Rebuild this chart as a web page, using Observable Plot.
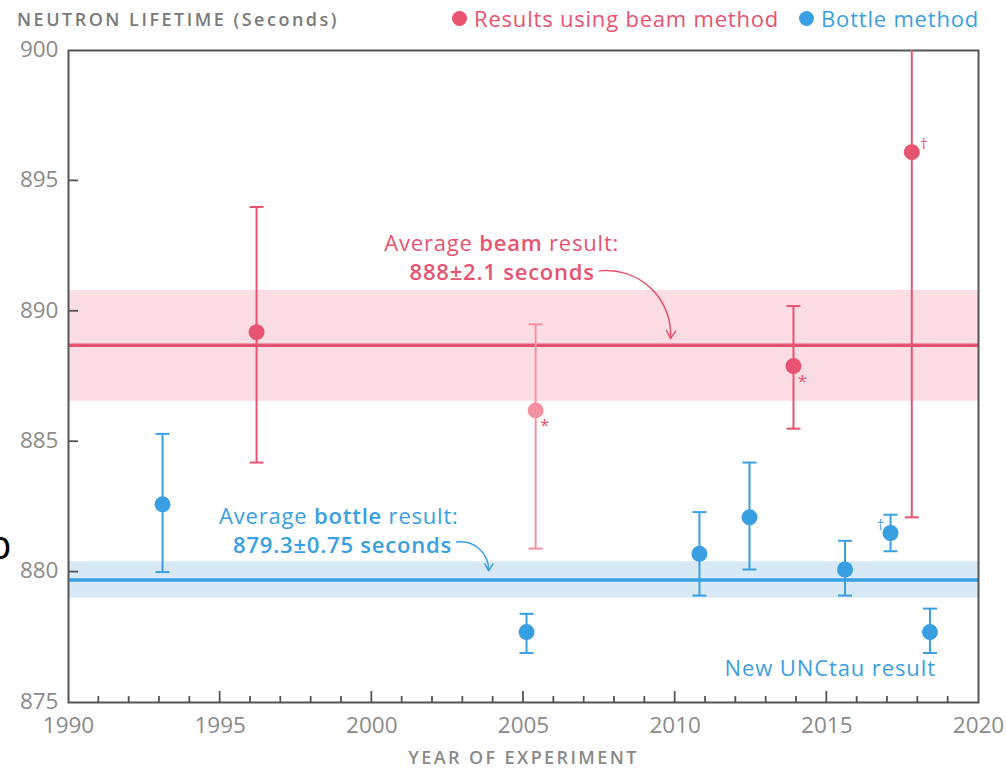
<!DOCTYPE html>
<html>
<head>
<meta charset="utf-8">
<script src="https://cdn.jsdelivr.net/npm/d3@7"></script>
<script src="https://cdn.jsdelivr.net/npm/@observablehq/plot@0.6"></script>
<style>
  body { margin: 0; background: #fff; font-family: "Open Sans", Lato, sans-serif; }
  #wrap { position: relative; width: 1006px; height: 769px; overflow: hidden; }
  #title { position: absolute; left: 17px; top: 7px; font-size: 18px; font-weight: 600; color: #7a7a7a; letter-spacing: 2.5px; white-space: nowrap; }
  #legend { position: absolute; right: 27px; top: 3px; font-size: 22px; letter-spacing: 0.8px; display: flex; gap: 20px; white-space: nowrap; }
  #legend span.item { display: flex; align-items: center; gap: 7px; }
  #legend i { display: inline-block; width: 15px; height: 15px; border-radius: 50%; }
  #chart { position: absolute; left: 0; top: 20px; }
  #stray { position: absolute; left: -13px; top: 516px; font-size: 40px; color: #000; font-family: "Open Sans", sans-serif; }
</style>
</head>
<body>
<div id="wrap">
  <div id="chart"></div>
  <div id="title">NEUTRON LIFETIME (Seconds)</div>
  <div id="legend">
    <span class="item" style="color:#e8536f"><i style="background:#e8536f"></i>Results using beam method</span>
    <span class="item" style="color:#389fe2"><i style="background:#389fe2"></i>Bottle method</span>
  </div>
  <div id="stray">p</div>
</div>
<script>
// ---- data ----
const xTicks = [1990, 1995, 2000, 2005, 2010, 2015, 2020];
const xMinorTicks = d3.range(1990, 2021);
const yTicks = [875, 880, 885, 890, 895, 900];

const beamYear  = [1996.2, 2005.4, 2013.9, 2017.8];
const beamValue = [889.2, 886.2, 887.9, 896.1];
const beamLow   = [884.2, 880.9, 885.5, 882.1];
const beamHigh  = [894.0, 889.5, 890.2, 910.0];
const beamNote  = ["", "*", "*", "†"];

const bottleYear  = [1993.1, 2005.1, 2010.8, 2012.45, 2015.6, 2017.1, 2018.4];
const bottleValue = [882.6, 877.7, 880.7, 882.1, 880.1, 881.5, 877.7];
const bottleLow   = [880.0, 876.9, 879.1, 880.1, 879.1, 880.8, 876.9];
const bottleHigh  = [885.3, 878.4, 882.3, 884.2, 881.2, 882.2, 878.6];
const bottleNote  = ["", "", "", "", "", "†", ""];

const beamAvg = 888.7, beamBandLow = 886.55, beamBandHigh = 890.8;
const bottleAvg = 879.7, bottleBandLow = 879.0, bottleBandHigh = 880.4;

const RED = "#e8536f", RED_LIGHT = "#f2919f", RED_BAND = "#fcdde4";
const BLUE = "#389fe2", BLUE_BAND = "#d8eaf8";
const GREY = "#8a8a8a", AXIS = "#555555";
const FONT = "'Open Sans', Lato, sans-serif";

const beam = beamYear.map((x, i) => ({x, y: beamValue[i], lo: beamLow[i], hi: beamHigh[i], note: beamNote[i], i}));
const bottle = bottleYear.map((x, i) => ({x, y: bottleValue[i], lo: bottleLow[i], hi: bottleHigh[i], note: bottleNote[i], i}));

const cap = {draw(ctx, size) { const r = Math.sqrt(size / Math.PI); ctx.moveTo(-r, 0); ctx.lineTo(r, 0); }};
const beamFill = d => d.i === 1 ? RED_LIGHT : RED;

const plot = Plot.plot({
  width: 1006,
  height: 749,
  marginTop: 30,
  marginBottom: 67,
  marginLeft: 68,
  marginRight: 28,
  style: {fontFamily: FONT, background: "transparent"},
  x: {type: "linear", domain: [1990, 2020], axis: null},
  y: {type: "linear", domain: [875, 900], axis: null},
  marks: [
    // bands
    Plot.rect([{}], {x1: 1990, x2: 2020, y1: beamBandLow, y2: beamBandHigh, fill: RED_BAND}),
    Plot.rect([{}], {x1: 1990, x2: 2020, y1: bottleBandLow, y2: bottleBandHigh, fill: BLUE_BAND}),
    Plot.ruleY([beamAvg], {stroke: RED, strokeWidth: 3.5}),
    Plot.ruleY([bottleAvg], {stroke: BLUE, strokeWidth: 3.5}),
    // frame
    Plot.frame({stroke: AXIS, strokeWidth: 2}),
    // error bars
    Plot.ruleX(beam, {x: "x", y1: "lo", y2: "hi", stroke: beamFill, strokeWidth: 2, clip: true}),
    Plot.dot(beam, {x: "x", y: "lo", symbol: cap, r: 7, stroke: beamFill, strokeWidth: 2, fill: "none", clip: true}),
    Plot.dot(beam, {x: "x", y: "hi", symbol: cap, r: 7, stroke: beamFill, strokeWidth: 2, fill: "none", clip: true}),
    Plot.ruleX(bottle, {x: "x", y1: "lo", y2: "hi", stroke: BLUE, strokeWidth: 2}),
    Plot.dot(bottle, {x: "x", y: "lo", symbol: cap, r: 7, stroke: BLUE, strokeWidth: 2, fill: "none"}),
    Plot.dot(bottle, {x: "x", y: "hi", symbol: cap, r: 7, stroke: BLUE, strokeWidth: 2, fill: "none"}),
    // points
    Plot.dot(beam, {x: "x", y: "y", r: 8, fill: beamFill, stroke: "none"}),
    Plot.dot(bottle, {x: "x", y: "y", r: 8, fill: BLUE, stroke: "none"}),
    // notes
    Plot.text(beam.filter(d => d.note === "*"), {x: "x", y: "y", text: "note", dx: 9, dy: 15, fill: RED, fontSize: 17}),
    Plot.text(beam.filter(d => d.note === "†"), {x: "x", y: "y", text: "note", dx: 12, dy: -8, fill: RED, fontSize: 15}),
    Plot.text(bottle.filter(d => d.note === "†"), {x: "x", y: "y", text: "note", dx: -10, dy: -8, fill: BLUE, fontSize: 15}),
    // arrows
    Plot.arrow([{}], {x1: 2007.5, y1: 891.55, x2: 2009.85, y2: 888.95, bend: 50, stroke: RED, strokeWidth: 1.5, headLength: 9}),
    Plot.arrow([{}], {x1: 2002.8, y1: 881.15, x2: 2003.85, y2: 880.05, bend: 50, stroke: BLUE, strokeWidth: 1.5, headLength: 8}),
    // axis labels
    Plot.text(xTicks, {x: d => d, y: () => 875, text: d => String(d), dy: 23, fill: GREY, fontSize: 22.5}),
    Plot.text(yTicks, {x: () => 1990, y: d => d, text: d => String(d), dx: -10, dy: -1, textAnchor: "end", fill: GREY, fontSize: 22.5}),
    Plot.text(["YEAR OF EXPERIMENT"], {x: () => 2005, y: () => 875, text: d => d, dy: 56, fill: GREY, fontSize: 18, fontWeight: 600}),
    Plot.text(["New UNCtau result"], {x: () => 2018.4, y: () => 875, text: d => d, dy: -34, dx: 6, textAnchor: "end", fill: BLUE, fontSize: 22})
  ]
});

document.getElementById("chart").appendChild(plot);
const svg = d3.select(plot);
const xs = plot.scale("x"), ys = plot.scale("y");
const bottom = ys.apply(875), left = xs.apply(1990);
svg.selectAll("text").filter(function() { return this.textContent === "YEAR OF EXPERIMENT"; }).attr("letter-spacing", "2.4px");
svg.selectAll("text").filter(function() { return this.textContent === "New UNCtau result"; }).attr("letter-spacing", "0.9px");

// inward ticks drawn with the plot's scales
const tg = svg.append("g").attr("stroke", AXIS).attr("stroke-width", 1.8);
tg.selectAll("line.minor").data(xMinorTicks.filter(d => d > 1990 && d < 2020)).join("line")
  .attr("x1", d => xs.apply(d)).attr("x2", d => xs.apply(d))
  .attr("y1", bottom).attr("y2", d => bottom - (d % 5 === 0 ? 11 : 6));
tg.selectAll("line.y").data(yTicks.filter(d => d > 875 && d < 900)).join("line")
  .attr("x1", left).attr("x2", left + 10)
  .attr("y1", d => ys.apply(d)).attr("y2", d => ys.apply(d));

// annotation texts with mixed weight
function annot(year, value, color, parts, anchor) {
  const t = svg.append("text").attr("x", xs.apply(year)).attr("y", ys.apply(value))
    .attr("fill", color).attr("font-size", 22).attr("letter-spacing", "0.8px")
    .attr("font-family", FONT).attr("text-anchor", anchor);
  parts.forEach(([s, w]) => t.append("tspan").attr("font-weight", w).text(s));
}
annot(2004.3, 892.3, RED, [["Average ", 400], ["beam", 600], [" result:", 400]], "middle");
annot(2007.37, 891.2, RED, [["888±2.1 seconds", 600]], "end");
annot(1998.93, 881.83, BLUE, [["Average ", 400], ["bottle", 600], [" result:", 400]], "middle");
annot(2002.66, 880.71, BLUE, [["879.3±0.75 seconds", 600]], "end");
</script>
</body>
</html>
